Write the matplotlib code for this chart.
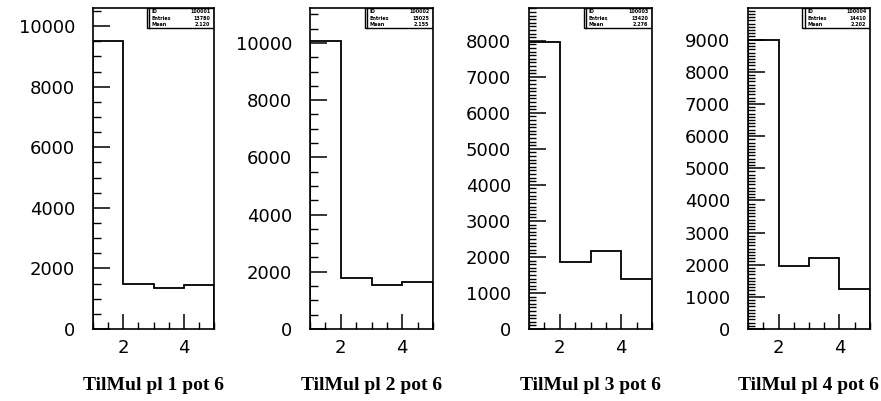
import matplotlib
matplotlib.use("Agg")
import matplotlib.pyplot as plt
import numpy as np
from matplotlib.ticker import MultipleLocator
from matplotlib.patches import Rectangle

# bin edges shared by all four histograms
edges = [1, 2, 3, 4, 5]

# counts per bin
pl1 = [9500, 1475, 1345, 1460]
pl2 = [10050, 1770, 1550, 1655]
pl3 = [7980, 1870, 2170, 1400]
pl4 = [9000, 1950, 2210, 1250]

titles = ["TilMul pl 1 pot 6", "TilMul pl 2 pot 6",
          "TilMul pl 3 pot 6", "TilMul pl 4 pot 6"]
ymax = [10600, 11220, 8910, 9985]
ymajor = [2000, 2000, 1000, 1000]
yminor = [500, 500, 100, 100]
hist_id = ["100001", "100002", "100003", "100004"]

W, H = 881, 401
# axes boxes in pixels: left, right
boxes = [(93, 214), (310, 433), (529, 652), (748, 870)]
top_px, bot_px = 8, 329

fig = plt.figure(figsize=(W / 100, H / 100), dpi=100)

for i, counts in enumerate([pl1, pl2, pl3, pl4]):
    l, r = boxes[i]
    ax = fig.add_axes([l / W, (H - bot_px) / H, (r - l) / W, (bot_px - top_px) / H])
    ax.stairs(counts, edges, color="black", lw=1.3, baseline=0)
    ax.set_xlim(1, 5)
    ax.set_ylim(0, ymax[i])
    ax.xaxis.set_major_locator(MultipleLocator(2))
    ax.xaxis.set_minor_locator(MultipleLocator(0.5))
    ax.yaxis.set_major_locator(MultipleLocator(ymajor[i]))
    ax.yaxis.set_minor_locator(MultipleLocator(yminor[i]))
    ax.tick_params(axis="y", which="major", direction="in", length=12, width=1.1,
                   pad=13, labelsize=13)
    ax.tick_params(axis="y", which="minor", direction="in",
                   length=6 if yminor[i] == 500 else 5, width=1.0)
    ax.tick_params(axis="x", which="major", direction="in", length=11, width=1.1,
                   pad=7, labelsize=13)
    ax.tick_params(axis="x", which="minor", direction="in", length=5, width=1.0)
    for lab in ax.get_xticklabels() + ax.get_yticklabels():
        lab.set_family("DejaVu Sans")
    for s in ax.spines.values():
        s.set_linewidth(1.2)

    # stats box in the upper right corner
    c = np.asarray(counts, float)
    centers = (np.array(edges[:-1]) + np.array(edges[1:])) / 2
    n = int(c.sum())
    mean = (c * centers).sum() / c.sum()
    bx, bw, bh = 0.445, 0.555, 0.063
    ax.add_patch(Rectangle((bx, 1 - bh), bw, bh, transform=ax.transAxes,
                           fill=False, lw=1.0, color="black"))
    ax.plot([bx + 0.02, bx + 0.02], [1 - bh, 1], transform=ax.transAxes,
            color="black", lw=1.0)
    rows = [("ID", hist_id[i]), ("Entries", str(n)), ("Mean", f"{mean:.3f}")]
    for j, (k, v) in enumerate(rows):
        yy = 1 - bh * (j + 0.5) / 3
        ax.text(bx + 0.04, yy, k, transform=ax.transAxes, fontsize=3.5,
                fontweight="bold", va="center", ha="left")
        ax.text(0.97, yy, v, transform=ax.transAxes, fontsize=3.5,
                fontweight="bold", va="center", ha="right")

    fig.text((l + r) / 2 / W, (H - 385) / H, titles[i], ha="center", va="center",
             family="Liberation Serif", fontweight="bold", fontsize=14)

fig.savefig("out.png", dpi=100)
